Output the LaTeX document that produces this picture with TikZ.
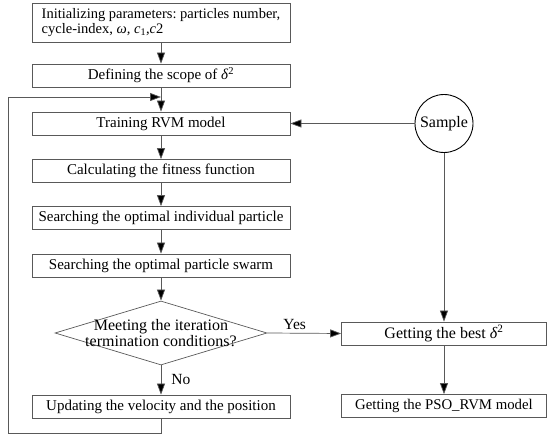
\documentclass[tikz,border=0pt]{standalone}
\usepackage{fontspec}
\setmainfont{Liberation Serif}
\usetikzlibrary{shapes.geometric, arrows.meta, positioning}

\newcommand{\dsq}{\textit{δ}\textsuperscript{2}}

\begin{document}
\begin{tikzpicture}[
  x=1pt, y=-1pt,
  box/.style   = {draw=black!65, line width=0.7pt, minimum width=258pt,
                  minimum height=23pt, inner sep=1pt, font=\fontsize{15}{16}\selectfont},
  rbox/.style  = {box, minimum width=205pt},
  cond/.style  = {draw=black!65, line width=0.7pt, diamond, aspect=3.3,
                  minimum width=212pt, minimum height=64pt, inner sep=-10pt,
                  align=center, font=\fontsize{16}{16}\selectfont},
  src/.style   = {draw, circle, line width=0.9pt, minimum size=58pt, inner sep=0pt,
                  font=\fontsize{16}{16}\selectfont},
  line/.style  = {draw=black!65, line width=0.7pt},
  arr/.style   = {line, -{Triangle[length=11pt, width=8pt, fill=black]}},
  lbl/.style   = {font=\fontsize{15.5}{16}\selectfont, inner sep=1pt},
]
\useasboundingbox (0,0) rectangle (550,446);

% main column
\node[box, minimum height=39pt, align=left,
      font=\fontsize{14.5}{15}\selectfont\frenchspacing] (init) at (161,22.5)
     {Initializing parameters: particles number,\\cycle-index, \textit{ω, c}\textsubscript{1},\textit{c}2};
\node[box]  (scope)  at (161,75.5)  {Defining the scope of \dsq};
\node[box]  (train)  at (161,123.5) {Training RVM model};
\node[box]  (fit)    at (161,171)   {Calculating the fitness function};
\node[box]  (indiv)  at (161,218)   {Searching the optimal individual particle};
\node[box]  (swarm)  at (161,265.5) {Searching the optimal particle swarm};
\node[cond] (check)  at (161,333)   {Meeting the iteration\\termination conditions?};
\node[box]  (update) at (161,406.5) {Updating the velocity and the position};

% right column
\node[src]  (sample) at (444,123.5) {Sample};
\node[rbox, font=\fontsize{16}{16}\selectfont] (best) at (444,333.5) {Getting the best \dsq};
\node[rbox, font=\fontsize{14.8}{16}\selectfont] (model) at (444,406) {Getting the PSO\_RVM model};

% loop back
\coordinate (loopB) at (8,433);
\coordinate (join)  at (161,97);

\draw[arr] (init) -- (scope);
\draw[arr] (scope) -- (train);
\draw[arr] (train) -- (fit);
\draw[arr] (fit) -- (indiv);
\draw[arr] (indiv) -- (swarm);
\draw[arr] (swarm) -- (check);
\draw[arr] (check) -- node[lbl, right, xshift=9pt]{No} (update);
\draw[arr] (update.south) |- (loopB) |- (join);

\draw[arr] (sample) -- (train.east);
\draw[arr] (sample) -- (best);
\draw[arr] (check.east) -- node[lbl, above, pos=0.37, yshift=2pt]{Yes} (best.west);
\draw[arr] (best) -- (model);

\end{tikzpicture}
\end{document}
